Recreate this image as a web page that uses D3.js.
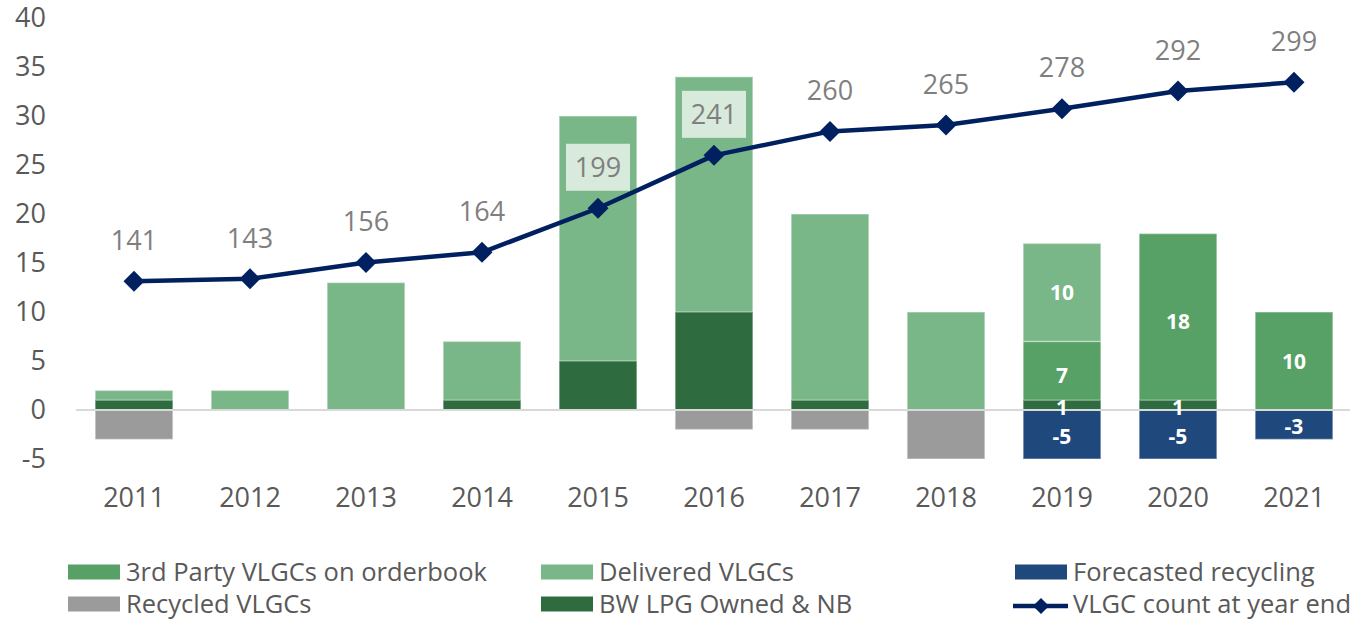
<!DOCTYPE html>
<html>
<head>
<meta charset="utf-8">
<script src="https://cdn.jsdelivr.net/npm/d3@7"></script>
<style>
  body { margin: 0; background: #fff; }
  #chart text { font-family: "Open Sans", sans-serif; }
</style>
</head>
<body>
<div id="chart"></div>
<script>
// ===================== DATA =====================
const years = ["2011","2012","2013","2014","2015","2016","2017","2018","2019","2020","2021"];
const thirdParty = [0, 0, 0, 0, 0, 0, 0, 0, 7, 18, 10];
const delivered  = [2, 2, 13, 7, 30, 34, 20, 10, 10, 0, 0];
const recycled   = [-3, 0, 0, 0, 0, -2, -2, -5, 0, 0, 0];
const forecasted = [0, 0, 0, 0, 0, 0, 0, 0, -5, -5, -3];
const bwOwned    = [1, 0, 0, 1, 5, 10, 1, 0, 1, 1, 0];   // drawn over the other bars
const fleetCount = [141, 143, 156, 164, 199, 241, 260, 265, 278, 292, 299];
const yTicks = [-5, 0, 5, 10, 15, 20, 25, 30, 35, 40];
const labelledYears = ["2019", "2020", "2021"];

const colors = {
  thirdParty: "#57a066",
  delivered: "#7ab788",
  recycled: "#9b9b9b",
  forecasted: "#1f487c",
  bwOwned: "#2e6b3f",
  line: "#002060"
};

// ===================== CHART =====================
const width = 1350, height = 620;
const svg = d3.select("#chart").append("svg")
  .attr("width", width)
  .attr("height", height);

const x = d3.scaleBand().domain(years).range([76, 1352]).paddingInner(0.33).paddingOuter(0.165);
const y = d3.scaleLinear().domain([-5, 40]).range([459, 18]);
const y2 = d3.scaleLinear().domain([0, 350]).range([459, 18]);

// y axis labels (no line)
const yAxis = svg.append("g")
  .attr("transform", "translate(46,0)")
  .call(d3.axisLeft(y).tickValues(yTicks).tickFormat(d => String(d)).tickSize(0).tickPadding(0));
yAxis.select(".domain").remove();
yAxis.selectAll("text").attr("font-size", 27).attr("fill", "#595959").attr("font-family", "Open Sans");

// x labels
const xAxis = svg.append("g")
  .attr("transform", "translate(0,498)")
  .call(d3.axisBottom(x).tickSize(0).tickPadding(0));
xAxis.select(".domain").remove();
xAxis.selectAll("text").attr("font-size", 27).attr("fill", "#595959")
  .attr("font-family", "Open Sans").attr("dy", "0.32em");

// stacked bars
const rows = years.map((yr, i) => ({
  year: yr, thirdParty: thirdParty[i], delivered: delivered[i],
  recycled: recycled[i], forecasted: forecasted[i], bwOwned: bwOwned[i]
}));
const keys = ["thirdParty", "delivered", "recycled", "forecasted"];
const stacked = d3.stack().keys(keys).offset(d3.stackOffsetDiverging)(rows);

const segs = [];
stacked.forEach(s => s.forEach(d => {
  if (d.data[s.key] !== 0) segs.push({ key: s.key, year: d.data.year, v: d.data[s.key], y0: d[0], y1: d[1] });
}));
rows.forEach(r => {
  if (r.bwOwned !== 0) segs.push({ key: "bwOwned", year: r.year, v: r.bwOwned, y0: 0, y1: r.bwOwned });
});

svg.append("g").selectAll("rect")
  .data(segs)
  .enter()
  .append("rect")
  .attr("x", d => x(d.year))
  .attr("width", x.bandwidth())
  .attr("y", d => y(Math.max(d.y0, d.y1)))
  .attr("height", d => Math.abs(y(d.y0) - y(d.y1)))
  .attr("fill", d => colors[d.key])
  .attr("stroke", "rgba(255,255,255,0.35)")
  .attr("stroke-width", 1.5);

// zero line
svg.append("line")
  .attr("x1", 76).attr("x2", 1350)
  .attr("y1", y(0)).attr("y2", y(0))
  .attr("stroke", "#d9d9d9").attr("stroke-width", 2);

// in-bar labels for the forecast years
svg.append("g").selectAll("text")
  .data(segs.filter(d => labelledYears.includes(d.year)))
  .enter()
  .append("text")
  .attr("x", d => x(d.year) + x.bandwidth() / 2)
  .attr("y", d => y((d.y0 + d.y1) / 2) + (d.key === "bwOwned" ? 2 : d.key === "forecasted" ? 2 : 0))
  .attr("dy", "0.36em")
  .attr("text-anchor", "middle")
  .attr("font-size", 21)
  .attr("font-weight", "bold")
  .attr("fill", "#fff")
  .text(d => d.v);

// fleet count line
const cx = (d, i) => x(years[i]) + x.bandwidth() / 2;
svg.append("path")
  .datum(fleetCount)
  .attr("fill", "none")
  .attr("stroke", colors.line)
  .attr("stroke-width", 4.5)
  .attr("stroke-linejoin", "round")
  .attr("d", d3.line().x(cx).y(d => y2(d)));

const diamond = d3.symbol().type(d3.symbolSquare).size(220);
svg.append("g").selectAll("path")
  .data(fleetCount)
  .enter()
  .append("path")
  .attr("d", diamond)
  .attr("transform", (d, i) => `translate(${cx(d, i)},${y2(d)}) rotate(45)`)
  .attr("fill", colors.line);

// line labels with pale boxes
const lbl = svg.append("g").selectAll("g")
  .data(fleetCount)
  .enter()
  .append("g")
  .attr("transform", (d, i) => `translate(${cx(d, i)},${y2(d) - 41})`);
lbl.append("rect")
  .attr("x", -32).attr("y", -23.5).attr("width", 64).attr("height", 47)
  .attr("fill", "#fff").attr("opacity", 0.7);
lbl.append("text")
  .attr("text-anchor", "middle")
  .attr("dy", "0.36em")
  .attr("font-size", 27)
  .attr("fill", "#7f7f7f")
  .text(d => d);

// legend
const legendItems = [
  { name: "3rd Party VLGCs on orderbook", key: "thirdParty", col: 0, row: 0 },
  { name: "Delivered VLGCs", key: "delivered", col: 1, row: 0 },
  { name: "Forecasted recycling", key: "forecasted", col: 2, row: 0 },
  { name: "Recycled VLGCs", key: "recycled", col: 0, row: 1 },
  { name: "BW LPG Owned & NB", key: "bwOwned", col: 1, row: 1 },
  { name: "VLGC count at year end", key: "line", col: 2, row: 1 }
];
const colX = [68, 541, 1015], rowY = [572, 604];
const leg = svg.append("g").selectAll("g")
  .data(legendItems)
  .enter()
  .append("g")
  .attr("transform", d => `translate(${colX[d.col]},${rowY[d.row]})`);
leg.filter(d => d.key !== "line").append("rect")
  .attr("x", 0).attr("y", -7.5).attr("width", 52).attr("height", 15)
  .attr("fill", d => colors[d.key]);
const lineLeg = leg.filter(d => d.key === "line");
lineLeg.append("line")
  .attr("x1", -2).attr("x2", 53).attr("y1", 2).attr("y2", 2)
  .attr("stroke", colors.line).attr("stroke-width", 4.5);
lineLeg.append("path")
  .attr("d", d3.symbol().type(d3.symbolSquare).size(130))
  .attr("transform", "translate(26,2) rotate(45)")
  .attr("fill", colors.line);
leg.append("text")
  .attr("x", 58)
  .attr("dy", "0.35em")
  .attr("font-size", 25.5)
  .attr("fill", "#595959")
  .text(d => d.name);
</script>
</body>
</html>
